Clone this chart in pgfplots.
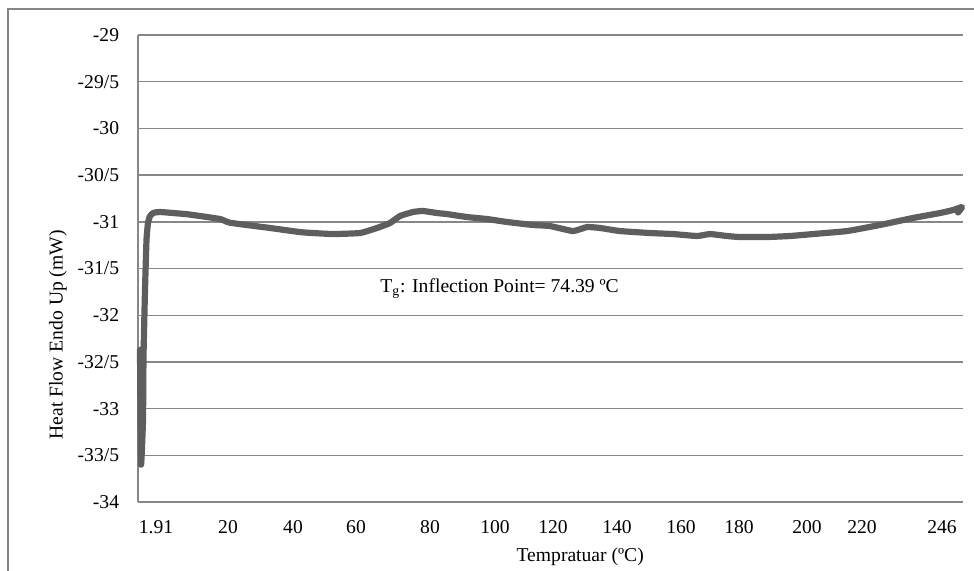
\documentclass[border=0pt]{standalone}
\usepackage{pgfplots}
\pgfplotsset{compat=1.18}
\usepackage{fontspec}
\setmainfont{Liberation Serif}
\definecolor{gridgray}{HTML}{878787}
\definecolor{curvegray}{HTML}{5E5E5E}
\begin{document}
\fontsize{9.8}{12}\selectfont
\begin{tikzpicture}
\useasboundingbox (-69pt,-34pt) rectangle (418pt,251pt);
\draw[gridgray, line width=0.6pt] (-65pt,-40pt) -- (-65pt,246.5pt) -- (430pt,246.5pt);
\begin{axis}[
  at={(0,0)}, anchor=south west,
  scale only axis,
  width=412.5pt, height=233.5pt,
  xmin=0, xmax=825, ymin=-34, ymax=-29,
  axis y line*=left, axis x line*=bottom,
  axis line style={gridgray, line width=0.7pt},
  x axis line style={-}, y axis line style={-},
  ymajorgrids, grid style={gridgray, line width=0.7pt},
  major tick length=0pt,
  ytick={-34,-33.5,-33,-32.5,-32,-31.5,-31,-30.5,-30,-29.5,-29},
  yticklabels={-34,-33/5,-33,-32/5,-32,-31/5,-31,-30/5,-30,-29/5,-29},
  xtick={18,90,155,218,292,357,415,479,543,601,669,724,804},
  xticklabels={1.91,20,40,60,80,100,120,140,160,180,200,220,246},
  yticklabel style={xshift=-6pt},
  xticklabel style={yshift=-6pt},
  tick label style={font=\fontsize{9.8}{12}\selectfont},
  /pgf/number format/assume math mode=true,
  xlabel={Tempratuar (ºC)},
  ylabel={Heat Flow Endo Up (mW)},
  every axis x label/.style={at={(axis description cs:0.536,-0.118)}, anchor=center},
  every axis y label/.style={at={(axis description cs:-0.097,0.358)}, rotate=90, anchor=center},
  clip=false,
]
\addplot[curvegray, line width=3.1pt, line join=round, line cap=round, smooth, tension=0.25] coordinates {
(2,-32.37) (3,-33.60) (5,-33.12) (5.5,-32.45) (7,-31.73) (8.5,-31.195) (10,-31.01) (12,-30.94) (15,-30.906)
(22,-30.895) (50,-30.92) (82,-30.97) (92,-31.01) (132,-31.066) (162,-31.11) (175,-31.12) (195,-31.131)
(222,-31.12) (239,-31.066) (252,-31.013) (262,-30.938) (275,-30.895) (285,-30.884) (299,-30.906)
(309,-30.917) (329,-30.949) (349,-30.970) (369,-31.002) (395,-31.034) (412,-31.045) (435,-31.099)
(449,-31.056) (462,-31.066) (482,-31.099) (512,-31.12) (535,-31.131) (559,-31.152) (572,-31.131)
(589,-31.152) (602,-31.163) (629,-31.163) (652,-31.152) (675,-31.131) (709,-31.099) (742,-31.034)
(775,-30.959) (802,-30.906) (815,-30.874) (824,-30.842) (820,-30.90)
};
\node[anchor=west, inner sep=0pt] at (axis cs:242,-31.71) {T\textsubscript{g}: Inflection Point= 74.39 ºC};
\end{axis}
\end{tikzpicture}
\end{document}
